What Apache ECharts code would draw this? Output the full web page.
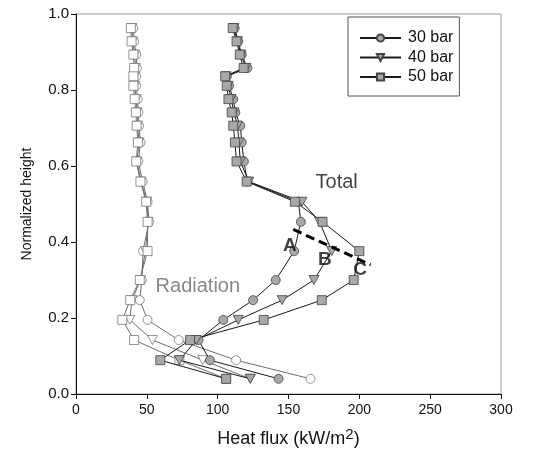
<!DOCTYPE html>
<html>
<head>
<meta charset="utf-8">
<script src="https://cdn.jsdelivr.net/npm/echarts@6/dist/echarts.min.js"></script>
<style>
  html, body { margin: 0; padding: 0; background: #fff; }
  #main { width: 545px; height: 458px; }
</style>
</head>
<body>
<div id="main"></div>
<script>
// normalized height of each measuring station (top to bottom)
var heights = [0.963, 0.928, 0.893, 0.858, 0.836, 0.811, 0.776, 0.741, 0.706, 0.662, 0.612,
  0.559, 0.506, 0.453, 0.376, 0.300, 0.247, 0.195, 0.142, 0.089, 0.040]

// total heat flux (kW/m2)
var total30 = [112, 114.5, 117, 121, 106.5, 108, 111, 112.5, 116, 117, 118.5,
  121, 157, 158.7, 154, 141, 125, 104, 86.5, 94.5, 143]
var total40 = [111.5, 114, 116.5, 120, 106, 107.5, 109.5, 111.5, 114, 115, 116,
  122, 159.5, 172, 180.5, 168, 145.5, 114.5, 85, 73, 123]
var total50 = [110.6, 113.3, 115.6, 118.3, 105.3, 106.4, 107.6, 109.9, 111, 112.2, 113.3,
  120.5, 154.5, 174, 200, 196, 173.5, 132.5, 80.5, 59.5, 106]

// radiative heat flux (kW/m2)
var rad30 = [40.5, 41, 42.5, 43, 42.5, 42.5, 43.5, 44, 44.5, 45.5, 44,
  47, 50.5, 51.5, 47.3, 46.5, 45, 50.5, 72.5, 113, 165.5]
var rad40 = [39.5, 40, 41.5, 42, 41.5, 41.5, 42.5, 43, 43.5, 44.5, 43,
  46, 50, 51, 49, 45.5, 39.5, 38, 54, 89.5, 123]
var rad50 = [38.7, 39.2, 40.5, 41, 40.5, 40.5, 41.4, 42.3, 42.8, 43.7, 42.5,
  45.5, 49.5, 50.5, 50.5, 45, 38.3, 32.7, 41, 73, 106]

var pressures = ['30 bar', '40 bar', '50 bar']
var xTicks = [0, 50, 100, 150, 200, 250, 300]
var yTicks = [0, 0.2, 0.4, 0.6, 0.8, 1.0]

// annotations: text, x, y
var notes = [['Total', 184, 0.556], ['Radiation', 86, 0.284], ['A', 151, 0.39], ['B', 175.7, 0.354], ['C', 200.5, 0.326]]
var dashX = [153.4, 208]
var dashY = [0.433, 0.34]

function pairs(xs) {
  return xs.map(function (x, i) { return [x, heights[i]] })
}

var symbols = [
  { symbol: 'circle', size: 9, rotate: 0 },
  { symbol: 'triangle', size: [10, 9], rotate: 180 },
  { symbol: 'rect', size: 9, rotate: 0 },
]

function makeSeries(name, xs, k, filled) {
  return {
    name: name,
    type: 'line',
    data: pairs(xs),
    symbol: symbols[k].symbol,
    symbolSize: symbols[k].size,
    symbolRotate: symbols[k].rotate,
    showAllSymbol: true,
    z: filled ? 4 : 3,
    lineStyle: { color: filled ? '#1a1a1a' : '#6e6e6e', width: 1 },
    itemStyle: {
      color: filled ? '#a8a8a8' : '#ffffff',
      borderColor: filled ? '#444' : '#777',
      borderWidth: 0.8,
    },
    emphasis: { disabled: true },
  }
}

var chart = echarts.init(document.getElementById('main'), null, { renderer: 'canvas' })

var series = [
  makeSeries('rad 30 bar', rad30, 0, false),
  makeSeries('rad 40 bar', rad40, 1, false),
  makeSeries('rad 50 bar', rad50, 2, false),
  makeSeries(pressures[0], total30, 0, true),
  makeSeries(pressures[1], total40, 1, true),
  makeSeries(pressures[2], total50, 2, true),
  {
    name: 'dash',
    type: 'line',
    data: dashX.map(function (x, i) { return [x, dashY[i]] }),
    symbol: 'none',
    z: 5,
    lineStyle: { color: '#000', width: 3, type: [9, 5] },
    emphasis: { disabled: true },
  },
  {
    name: 'notes',
    type: 'scatter',
    symbolSize: 0,
    z: 6,
    silent: true,
    data: notes.map(function (n) {
      var bold = n[0].length === 1
      return {
        name: n[0],
        value: [n[1], n[2]],
        label: {
          show: true,
          position: 'inside',
          formatter: '{b}',
          fontFamily: 'Liberation Sans, Arial, sans-serif',
          fontSize: bold ? 19 : 20,
          fontWeight: bold ? 'bold' : 'normal',
          color: n[0] === 'Radiation' ? '#6a6a6a' : '#111',
        },
      }
    }),
  },
]

var option = {
  animation: false,
  backgroundColor: '#fff',
  textStyle: { fontFamily: 'Liberation Sans, Arial, sans-serif' },
  grid: {
    left: 76, right: 44, top: 14, bottom: 64,
    show: true, borderColor: '#9a9a9a', borderWidth: 1,
  },
  legend: {
    data: pressures,
    orient: 'vertical',
    left: 348,
    top: 17,
    padding: [13, 6, 11, 11],
    itemGap: 3.5,
    itemWidth: 41,
    itemHeight: 9,
    borderColor: '#555',
    borderWidth: 1,
    selectedMode: false,
    textStyle: { fontSize: 16, color: '#111', padding: [0, 0, 0, 2] },
  },
  xAxis: {
    type: 'value',
    min: xTicks[0],
    max: xTicks[xTicks.length - 1],
    interval: 50,
    name: 'Heat flux (kW/m{sup|2})',
    nameLocation: 'middle',
    nameGap: 33,
    nameTextStyle: {
      fontSize: 18, color: '#111',
      rich: { sup: { fontSize: 15, verticalAlign: 'top', padding: [0, 0, 10, 0], color: '#111' } },
    },
    axisLine: { lineStyle: { color: '#111', width: 1 } },
    axisTick: { length: 5, lineStyle: { color: '#111' } },
    axisLabel: { fontSize: 14, color: '#111', margin: 9 },
    splitLine: { show: false },
  },
  yAxis: {
    type: 'value',
    min: yTicks[0],
    max: yTicks[yTicks.length - 1],
    interval: 0.2,
    name: 'Normalized height',
    nameLocation: 'middle',
    nameGap: 42,
    nameTextStyle: { fontSize: 14, color: '#111' },
    axisLine: { show: true, lineStyle: { color: '#111', width: 1 } },
    axisTick: { show: true, length: 5, lineStyle: { color: '#111' } },
    axisLabel: {
      fontSize: 15, color: '#111', margin: 7,
      formatter: function (v) { return v.toFixed(1) },
    },
    splitLine: { show: false },
  },
  series: series,
}

chart.setOption(option)
</script>
</body>
</html>
